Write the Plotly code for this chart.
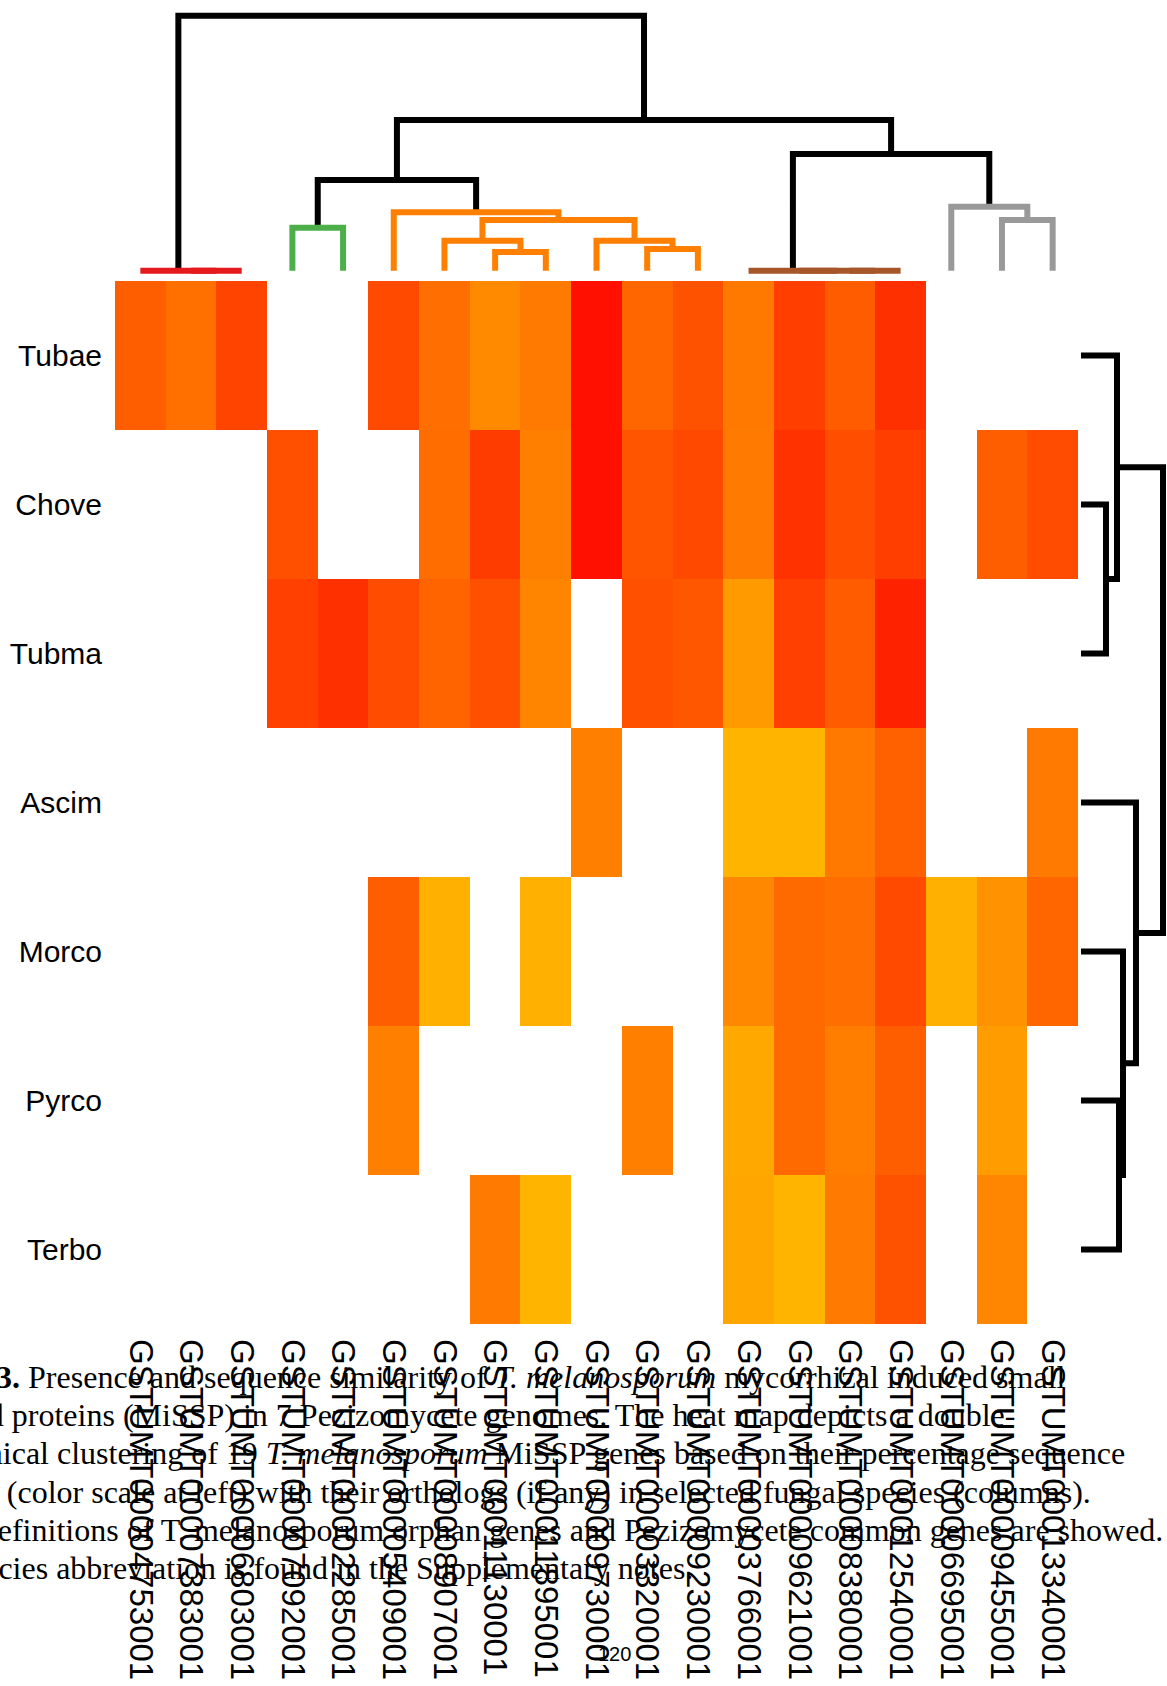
import plotly.graph_objects as go

W, H = 1167, 1686

# Species (rows, top to bottom) and T. melanosporum MiSSP genes (columns, left to right)
species = ["Tubae", "Chove", "Tubma", "Ascim", "Morco", "Pyrco", "Terbo"]
genes = [
    "GSTUMT00004753001", "GSTUMT00007383001", "GSTUMT00006803001",
    "GSTUMT00007092001", "GSTUMT00002285001", "GSTUMT00005409001",
    "GSTUMT00008907001", "GSTUMT00011130001", "GSTUMT00011895001",
    "GSTUMT00009730001", "GSTUMT00003320001", "GSTUMT00009230001",
    "GSTUMT00003766001", "GSTUMT00009621001", "GSTUMT00008380001",
    "GSTUMT00012540001", "GSTUMT00006695001", "GSTUMT00009455001",
    "GSTUMT00013340001",
]

# Percentage sequence identity of each ortholog (None = no ortholog found)
N = None
identity_tubae = [53, 44, 66, N, N, 63, 45, 31, 39, 92, 49, 59, 40, 69, 54, 76, N, N, N]
identity_chove = [N, N, N, 60, N, N, 46, 70, 36, 92, 58, 64, 39, 75, 61, 69, N, 53, 62]
identity_tubma = [N, N, N, 68, 76, 62, 50, 60, 34, N, 60, 57, 23, 68, 54, 83, N, N, N]
identity_ascim = [N, N, N, N, N, N, N, N, N, 36, N, N, 10, 10, 40, 52, N, N, 39]
identity_morco = [N, N, N, N, N, 53, 12, N, 12, N, N, N, 32, 47, 45, 63, 12, 27, 49]
identity_pyrco = [N, N, N, N, N, 36, N, N, N, N, 36, N, 16, 47, 37, 53, N, 22, N]
identity_terbo = [N, N, N, N, N, N, N, 39, 10, N, N, N, 17, 10, 39, 59, N, 33, N]
identity = [identity_tubae, identity_chove, identity_tubma, identity_ascim,
            identity_morco, identity_pyrco, identity_terbo]

# Hierarchical clustering of genes: (left node, right node, merge height, branch colour)
RED, GREEN, ORANGE, BROWN, GREY, BLACK = "#E41A1C", "#4DAF4A", "#FF7F00", "#A65628", "#999999", "#000000"
gene_merges = [
    (1, 2, 0.0, RED),        # 19
    (0, 19, 0.0, RED),       # 20
    (3, 4, 0.43, GREEN),     # 21
    (7, 8, 0.187, ORANGE),   # 22
    (6, 22, 0.30, ORANGE),   # 23
    (10, 11, 0.217, ORANGE), # 24
    (9, 24, 0.30, ORANGE),   # 25
    (23, 25, 0.507, ORANGE), # 26
    (5, 26, 0.584, ORANGE),  # 27
    (21, 27, 0.907, BLACK),  # 28
    (14, 15, 0.0, BROWN),    # 29
    (13, 29, 0.0, BROWN),    # 30
    (12, 30, 0.0, BROWN),    # 31
    (17, 18, 0.507, GREY),   # 32
    (16, 32, 0.64, GREY),    # 33
    (31, 33, 1.167, BLACK),  # 34
    (28, 34, 1.507, BLACK),  # 35
    (20, 35, 2.55, BLACK),   # 36
]

# Hierarchical clustering of species
species_merges = [
    (1, 2, 0.25, BLACK),   # 7
    (0, 7, 0.36, BLACK),   # 8
    (5, 6, 0.38, BLACK),   # 9
    (4, 9, 0.42, BLACK),   # 10
    (3, 10, 0.55, BLACK),  # 11
    (8, 11, 0.82, BLACK),  # 12
]

caption_lines = [
    "<b>Figure 3.</b> Presence and sequence similarity of <i>T. melanosporum</i> mycorrhizal induced small",
    "secreted proteins (MiSSP) in 7 Pezizomycete genomes. The heat map depicts a double-",
    "hierarchical clustering of 19 <i>T. melanosporum</i> MiSSP genes based on their percentage sequence",
    "identity (color scale at left) with their orthologs (if any) in selected fungal species (columns).",
    "The definitions of T. melanosporum orphan genes and Pezizomycete common genes are showed.",
    "The species abbreviation is found in the Supplementary notes.",
]
caption_left_px = [-104, -103, -104, -101, -78, -104]
caption_baseline_px = [1387, 1425, 1463, 1502, 1540, 1578]
page_number = "120"


def dendro_paths(n_leaves, merges):
    """Return {colour: (positions, heights)} of the U-shaped links."""
    pos = [float(i) for i in range(n_leaves)]
    hgt = [0.0] * n_leaves
    paths = {}
    for a, b, h, col in merges:
        p, q = paths.setdefault(col, ([], []))
        p.extend([pos[a], pos[a], pos[b], pos[b], None])
        q.extend([hgt[a], h, h, hgt[b], None])
        pos.append((pos[a] + pos[b]) / 2)
        hgt.append(h)
    return paths


def fx(px):
    return px / W


def fy(px):
    return 1 - px / H


# Pixel frame of the heat map
HM_L, HM_R, HM_T, HM_B = 115, 1078, 281, 1324
# Dendrogram scaling: 100 px per distance unit
TOP_BASE = 270.7     # leaf level of the gene dendrogram
RIGHT_BASE = 1081.0  # leaf level of the species dendrogram
PX_UNIT = 100.0

fig = go.Figure()

fig.add_trace(go.Heatmap(
    z=identity, x=list(range(len(genes))), y=list(range(len(species))),
    colorscale=[[0, "rgb(255,184,0)"], [1, "rgb(255,0,0)"]],
    zmin=8, zmax=100, showscale=False, xgap=0, ygap=0,
    xaxis="x", yaxis="y", hoverongaps=False,
))

order = [BLACK, RED, GREEN, ORANGE, BROWN, GREY]
top_paths = dendro_paths(len(genes), gene_merges)
for col in order:
    if col in top_paths:
        xs, hs = top_paths[col]
        fig.add_trace(go.Scatter(x=xs, y=hs, mode="lines", xaxis="x2", yaxis="y2",
                                 line=dict(color=col, width=6), hoverinfo="skip",
                                 showlegend=False))

side_paths = dendro_paths(len(species), species_merges)
for col, (ys, hs) in side_paths.items():
    fig.add_trace(go.Scatter(x=hs, y=ys, mode="lines", xaxis="x3", yaxis="y3",
                             line=dict(color=col, width=6), hoverinfo="skip",
                             showlegend=False))

tick_font = dict(family="Liberation Sans, Arial, sans-serif", size=33, color="black")
x_range = [-0.5, len(genes) - 0.5]
y_range = [len(species) - 0.5, -0.5]

annotations = []
for text, lx, by in zip(caption_lines, caption_left_px, caption_baseline_px):
    annotations.append(dict(
        text=text, xref="paper", yref="paper", x=fx(lx), y=fy(by - 10),
        xanchor="left", yanchor="middle", showarrow=False, align="left",
        font=dict(family="Liberation Serif, Times New Roman, serif", size=32, color="black"),
    ))
annotations.append(dict(
    text=page_number, xref="paper", yref="paper", x=fx(614), y=fy(1654),
    xanchor="center", yanchor="middle", showarrow=False,
    font=dict(family="Liberation Sans, Arial, sans-serif", size=20, color="black"),
))

fig.update_layout(
    width=W, height=H, margin=dict(l=0, r=0, t=0, b=0),
    paper_bgcolor="white", plot_bgcolor="white", showlegend=False,
    xaxis=dict(domain=[fx(HM_L), fx(HM_R)], range=x_range, anchor="y",
               tickvals=list(range(len(genes))), ticktext=genes, tickangle=90,
               tickfont=tick_font, ticks="", showgrid=False, zeroline=False,
               showline=False, ticklabelstandoff=14),
    yaxis=dict(domain=[fy(HM_B), fy(HM_T)], range=y_range, anchor="x",
               tickvals=list(range(len(species))), ticktext=species,
               tickfont=dict(family="Liberation Sans, Arial, sans-serif", size=30, color="black"),
               ticks="", showgrid=False, zeroline=False, showline=False,
               ticklabelstandoff=12),
    xaxis2=dict(domain=[fx(HM_L), fx(HM_R)], range=x_range, anchor="y2", visible=False),
    yaxis2=dict(domain=[fy(HM_T), fy(2)], anchor="x2", visible=False,
                range=[(TOP_BASE - HM_T) / PX_UNIT, (TOP_BASE - 2) / PX_UNIT]),
    xaxis3=dict(domain=[fx(HM_R), fx(W)], anchor="y3", visible=False,
                range=[(HM_R - RIGHT_BASE) / PX_UNIT, (W - RIGHT_BASE) / PX_UNIT]),
    yaxis3=dict(domain=[fy(HM_B), fy(HM_T)], range=y_range, anchor="x3", visible=False),
    annotations=annotations,
)

fig.write_html("out.html")
